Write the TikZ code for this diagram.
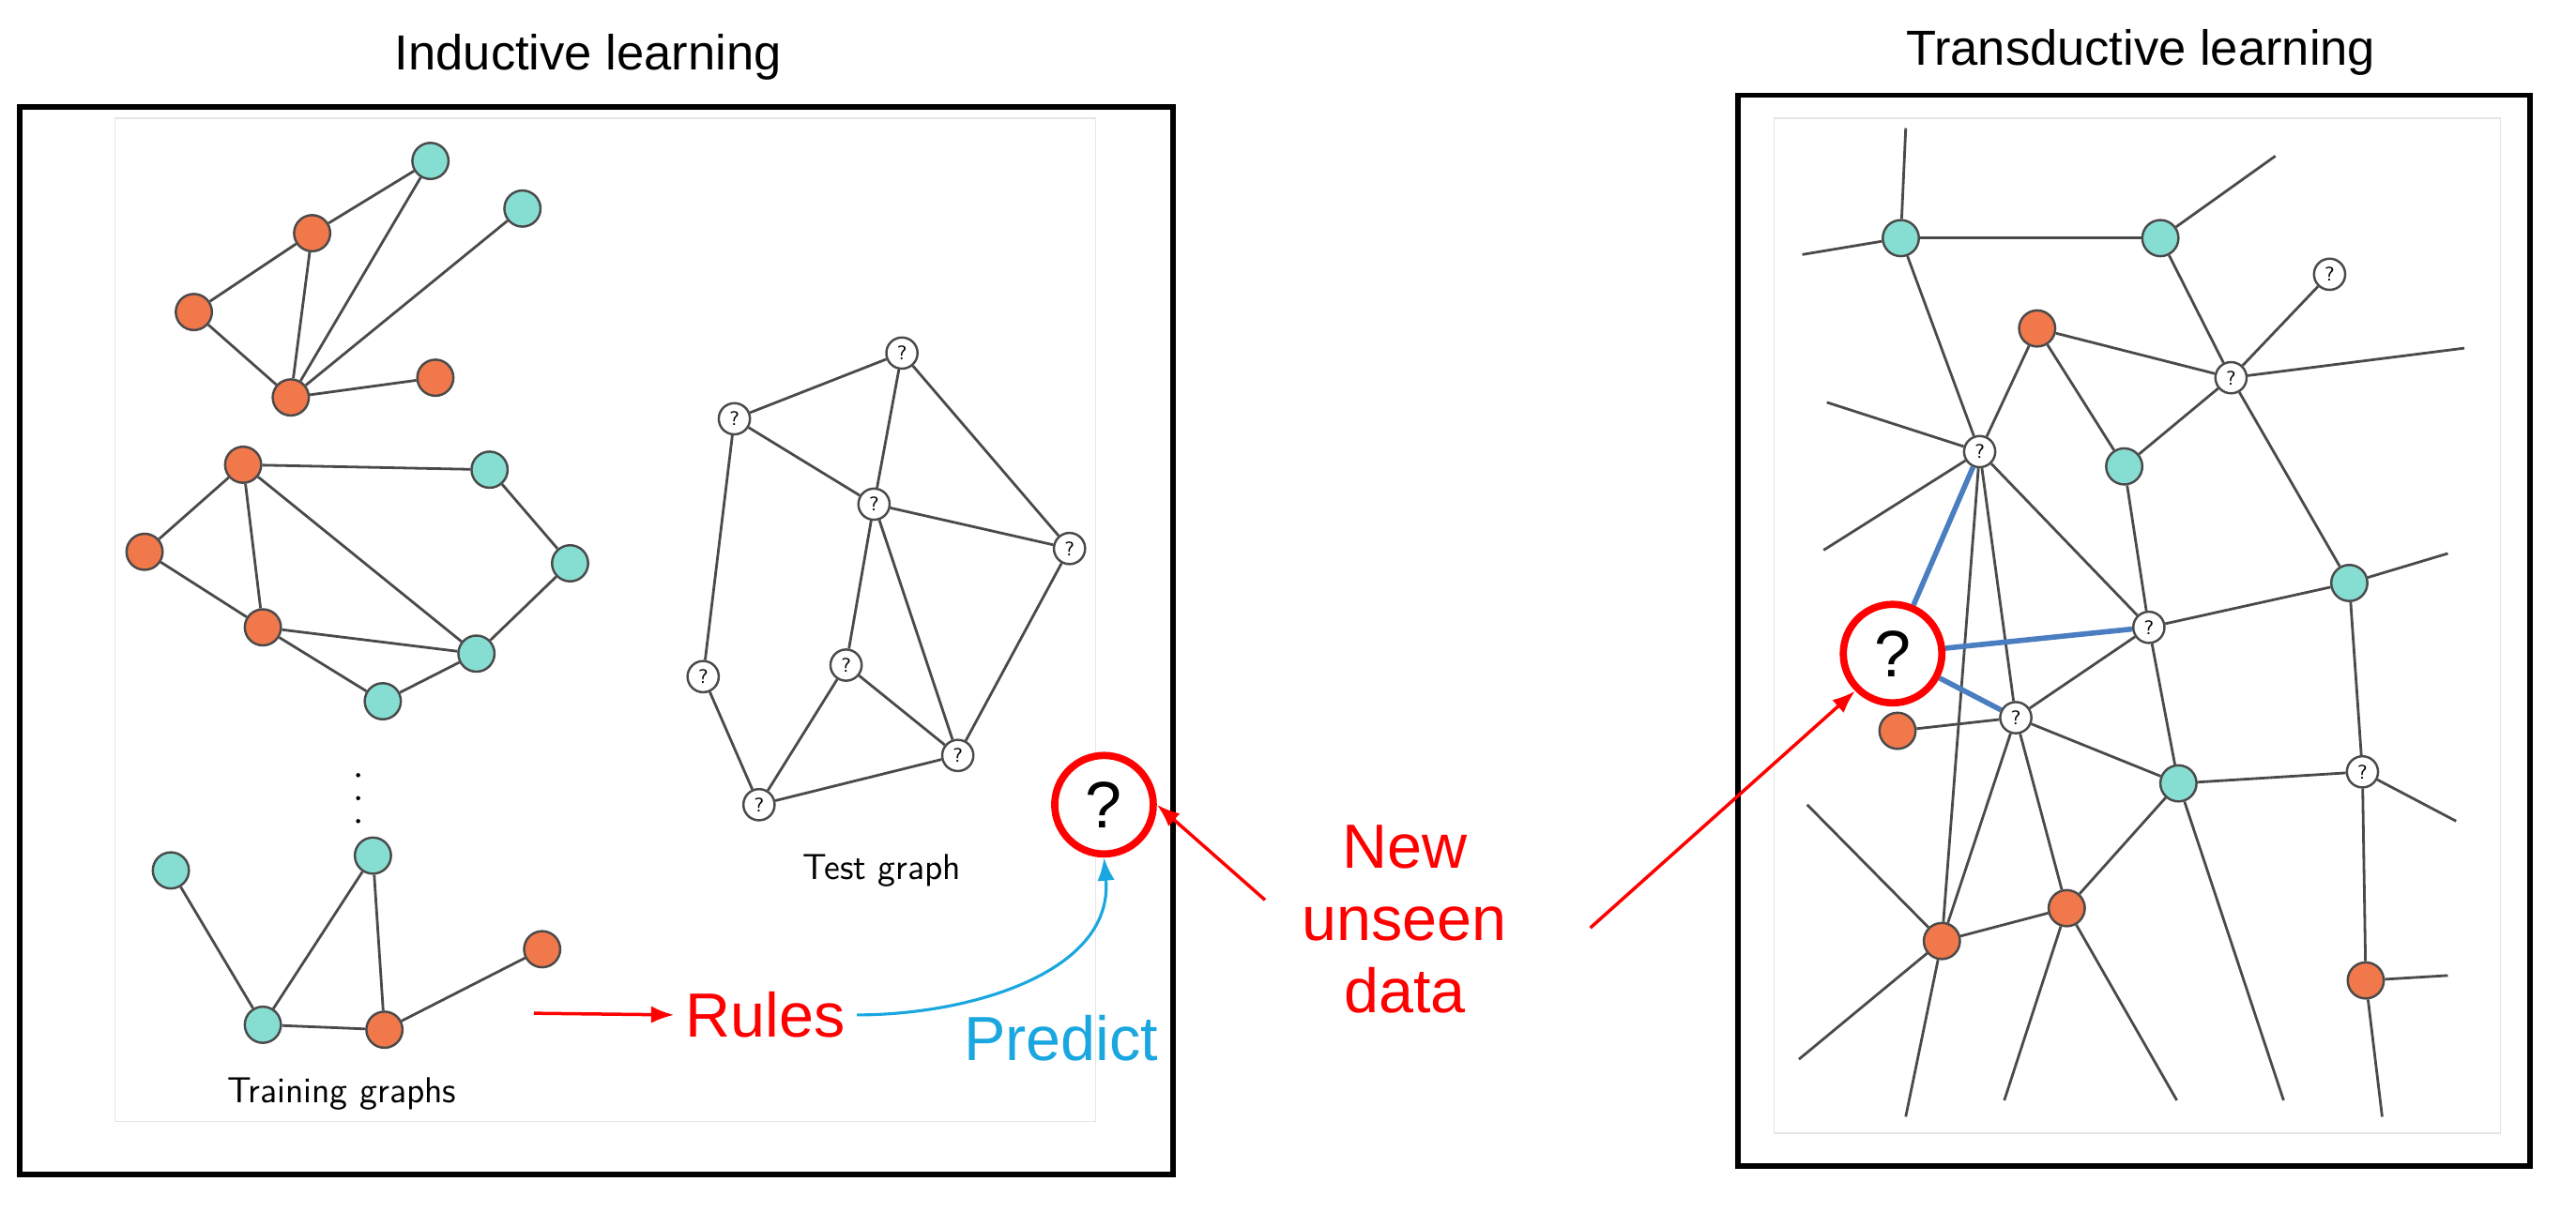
\documentclass[tikz,border=0pt]{standalone}
\usepackage{fontspec}
\setmainfont{Liberation Sans}
\usetikzlibrary{arrows.meta,backgrounds}
\definecolor{teal}{HTML}{86DED3}
\definecolor{orng}{HTML}{F0784A}
\definecolor{edge}{HTML}{4A4A4A}
\definecolor{predblue}{HTML}{1AA7E0}
\definecolor{linkblue}{HTML}{4A7EC0}
\tikzset{
  vtx/.style={circle, draw=edge, line width=0.7pt, minimum size=11pt, inner sep=0pt},
  tn/.style={vtx, fill=teal},
  on/.style={vtx, fill=orng},
  qn/.style={vtx, fill=white, minimum size=9.5pt, font=\sffamily\fontsize{6}{6}\selectfont},
  bigq/.style={circle, draw=red, line width=2.2pt, minimum size=30pt, inner sep=0pt, fill=white, font=\fontsize{20}{20}\selectfont},
  ed/.style={draw=edge, line width=0.8pt},
  frame/.style={draw=black, line width=1.6pt},
  redtxt/.style={text=red, font=\fontsize{19}{22}\selectfont, align=center},
}
\begin{document}
\begin{tikzpicture}[x=0.5pt, y=-0.5pt]
  \useasboundingbox (0,0) rectangle (1568,738);

  % inductive side
  \draw[frame] (12,65) rectangle (714,715);
  \draw[gray!20] (70,72) rectangle (667,683);
  \node[font=\fontsize{15}{15}\selectfont] at (358,35) {Inductive learning};

  % training graph 1
  \node[tn] (a) at (262,98) {};
  \node[tn] (b) at (318,127) {};
  \node[on] (c) at (190,142) {};
  \node[on] (d) at (118,190) {};
  \node[on] (e) at (177,242) {};
  \node[on] (f) at (265,230) {};

  % training graph 2
  \node[on] (g) at (148,283) {};
  \node[tn] (h) at (298,286) {};
  \node[on] (i) at (88,336) {};
  \node[tn] (j) at (347,343) {};
  \node[on] (k) at (160,382) {};
  \node[tn] (l) at (290,398) {};
  \node[tn] (m) at (233,427) {};

  \foreach \y in {472,486,500}
    \fill (218,\y) circle (1.3);

  % training graph 3
  \node[tn] (n) at (104,530) {};
  \node[tn] (o) at (227,521) {};
  \node[on] (p) at (330,578) {};
  \node[tn] (q) at (160,624) {};
  \node[on] (r) at (234,627) {};
  \node[font=\sffamily\fontsize{11}{11}\selectfont] (trlab) at (208,666) {Training graphs};

  % test graph
  \node[qn] (t1) at (549,215) {?};
  \node[qn] (t2) at (447,255) {?};
  \node[qn] (t3) at (532,307) {?};
  \node[qn] (t4) at (651,334) {?};
  \node[qn] (t5) at (428,412) {?};
  \node[qn] (t6) at (515,405) {?};
  \node[qn] (t7) at (583,460) {?};
  \node[qn] (t8) at (462,490) {?};
  \node[font=\sffamily\fontsize{11}{11}\selectfont] (tslab) at (537,530) {Test graph};

  \begin{scope}[on background layer]
  \foreach \u/\v in {c/a, d/c, d/e, c/e, a/e, b/e, f/e,
      g/h, g/i, g/k, g/l, i/k, h/j, j/l, k/l, k/m, m/l,
      n/q, q/o, o/r, q/r, r/p,
      t2/t1, t1/t3, t2/t3, t1/t4, t3/t4, t2/t5, t5/t8, t3/t6, t3/t7, t4/t7, t6/t8, t6/t7, t8/t7}
    \path[ed] (\u) -- (\v);
  \end{scope}

  \node[bigq] (newq) at (672,490) {?};
  \coordinate (rs) at (325,617);
  \node[redtxt] (rules) at (466,618) {Rules};
  \draw[-{Latex[length=7pt]}, red, line width=1pt] (rs) -- (rules.west);
  \draw[-{Latex[length=7pt]}, predblue, line width=0.9pt] (rules.east) to[out=0, in=-85] (newq.south);
  \node[text=predblue, font=\fontsize{19}{19}\selectfont] (pred) at (646,632) {Predict};

  \node[redtxt] (unseen) at (855,560) {New\\unseen\\data};
  \coordinate (u1) at (770,548);
  \draw[-{Latex[length=7pt]}, red, line width=1pt] (u1) -- (newq.east);

  % transductive side
  \draw[frame] (1058,58) rectangle (1540,710);
  \draw[gray!20] (1080,72) rectangle (1522,690);
  \node[font=\fontsize{15}{15}\selectfont] at (1303,32) {Transductive learning};

  \foreach \nm/\x/\y in {x1/1097/155, x2/1160/78, x3/1385/95, x4/1500/212, x5/1112/245,
      x6/1110/335, x7/1490/337, x8/1495/500, x9/1490/594, x10/1450/680, x11/1100/490,
      x12/1095/645, x13/1160/680, x14/1220/670, x15/1325/670, x16/1390/670}
    \coordinate (\nm) at (\x,\y);

  \node[tn] (A) at (1157,145) {};
  \node[tn] (B) at (1315,145) {};
  \node[tn] (C) at (1293,284) {};
  \node[tn] (D) at (1430,355) {};
  \node[tn] (E) at (1326,477) {};
  \node[on] (F) at (1240,200) {};
  \node[on] (G) at (1155,445) {};
  \node[on] (H) at (1182,573) {};
  \node[on] (I) at (1258,553) {};
  \node[on] (J) at (1440,597) {};
  \node[qn] (Q1) at (1418,167) {?};
  \node[qn] (Q2) at (1358,230) {?};
  \node[qn] (Q3) at (1205,275) {?};
  \node[qn] (Q4) at (1308,382) {?};
  \node[qn] (Q5) at (1227,437) {?};
  \node[qn] (Q6) at (1438,470) {?};
  \node[bigq] (TQ) at (1152,398) {?};

  \begin{scope}[on background layer]
  \foreach \u/\v in {A/B, A/x1, A/x2, A/Q3, B/x3, B/Q2, Q1/Q2, Q2/x4, F/Q3, F/Q2, F/C,
      C/Q2, Q2/D, Q3/x5, Q3/x6, Q3/Q4, Q3/Q5, Q3/H, C/Q4, Q4/D, Q4/Q5, Q4/E, D/x7, D/Q6,
      Q6/E, Q6/x8, Q6/J, J/x9, J/x10, Q5/E, Q5/H, Q5/I, Q5/G, E/I, H/I, H/x11, H/x12,
      H/x13, I/x14, I/x15, E/x16}
    \path[ed] (\u) -- (\v);
  \foreach \v in {Q3, Q4, Q5}
    \draw[linkblue, line width=1.6pt] (TQ) -- (\v);
  \end{scope}

  \coordinate (u2) at (968,565);
  \draw[-{Latex[length=7pt]}, red, line width=1pt] (u2) -- (TQ.south west);
\end{tikzpicture}
\end{document}
